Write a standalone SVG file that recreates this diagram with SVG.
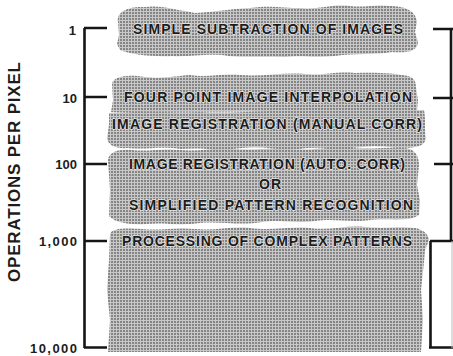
<svg xmlns="http://www.w3.org/2000/svg" width="453" height="356" viewBox="0 0 453 356">
<defs>
<pattern id="dots" patternUnits="userSpaceOnUse" width="3" height="3">
<rect width="3" height="3" fill="#c8c8c8"/>
<rect width="2" height="2" fill="#858585"/>
</pattern>
</defs>
<style>
.blob{fill:url(#dots);stroke:none}
.t{font-family:"Liberation Sans",Arial,sans-serif;font-weight:bold;font-size:14px;fill:#1c1c1c;stroke:#e6e6e6;stroke-width:1.4;paint-order:stroke;stroke-linejoin:round}
.n{font-family:"Liberation Sans",Arial,sans-serif;font-weight:bold;font-size:13px;fill:#1c1c1c;text-anchor:end}
.ax{stroke:#151515;stroke-width:2.6;fill:none}
</style>
<rect width="453" height="356" fill="#ffffff"/>
<g id="axis-title">
<text class="n" style="font-size:17px;text-anchor:middle" transform="translate(20,172) rotate(-90)" textLength="220" lengthAdjust="spacing">OPERATIONS PER PIXEL</text>
</g>
<g id="connectors">
<path class="ax" d="M84.5,28 V348 M84,28 H107 M84,97 H107 M84,164 H107 M84,241 H107 M84,347.5 H107"/>
<path class="ax" d="M451,28 V241 M433,29 H453 M433,98 H453 M434,164 H453 M430,241 H453 M430.5,241 V348 M429,347.5 H453"/>
<path d="M452,241 V348" stroke="#bbbbbb" stroke-width="1" fill="none"/>
</g>
<g id="scale">
<text class="n" x="76" y="35">1</text>
<text class="n" x="77" y="103">10</text>
<text class="n" x="77" y="169">100</text>
<text class="n" x="77" y="246" textLength="38">1,000</text>
<text class="n" x="77" y="353" textLength="47">10,000</text>
</g>
<g id="n1">
<path class="blob" d="M118,22 C116,12 128,6 145,7 C160,5 172,9 185,11 L195,13 C215,12 230,9 250,8 C270,5 285,8 300,8 C318,10 330,4 350,6 C365,8 375,4 392,6 C408,7 416,12 417,22 L415,32 L418,42 C418,52 405,53 392,52 C375,55 355,53 335,56 C315,58 300,55 285,57 C260,56 240,58 222,55 C200,54 190,57 172,56 C150,57 130,54 120,50 L117,44 L119,35 Z"/>
<text class="t" x="133" y="34" textLength="270" lengthAdjust="spacing">SIMPLE SUBTRACTION OF IMAGES</text>
</g>
<g id="n2">
<path class="blob" d="M112,84 C113,76 128,74 145,77 C165,79 175,76 190,75 C210,78 220,73 240,75 C262,77 285,72 305,74 C325,76 335,71 355,73 C375,72 395,73 408,76 C415,78 416,83 416,88 L418,100 L417,111 L111,112 L113,100 Z"/>
<text class="t" x="124" y="102" textLength="288" lengthAdjust="spacing">FOUR POINT IMAGE INTERPOLATION</text>
</g>
<g id="n3">
<path class="blob" d="M109,113 C140,111 170,113 200,112 C240,114 260,110 300,111 C340,109 380,112 424,110 C426,120 424,130 426,138 C425,143 422,146 415,147 C400,150 382,144 362,147 C340,150 320,146 300,149 C280,151 262,145 242,148 C220,151 200,147 180,149 C160,146 145,150 128,148 C115,149 108,145 107,138 L109,125 Z"/>
<text class="t" x="112" y="129" textLength="310" lengthAdjust="spacing">IMAGE REGISTRATION (MANUAL CORR)</text>
</g>
<g id="n4">
<path class="blob" d="M108,160 C109,152 118,149 132,150 C150,152 162,148 180,150 C200,152 215,147 235,149 C255,151 270,147 290,149 C315,151 330,146 352,148 C375,150 390,146 405,148 C415,149 419,156 419,165 L417,185 L420,200 L419,215 C410,222 392,218 370,220 C350,223 335,218 315,221 C295,224 282,219 262,222 C240,226 222,221 200,223 C180,226 165,222 145,224 C128,225 114,222 109,216 L110,190 Z"/>
<text class="t" x="129" y="169" textLength="276" lengthAdjust="spacing">IMAGE REGISTRATION (AUTO. CORR)</text>
<text class="t" x="259" y="189" textLength="22" lengthAdjust="spacing">OR</text>
<text class="t" x="129" y="210" textLength="284" lengthAdjust="spacing">SIMPLIFIED PATTERN RECOGNITION</text>
</g>
<g id="n5">
<path class="blob" d="M110,234 C112,228 125,228 142,229 C160,231 175,227 195,229 C215,231 230,226 250,228 C272,231 290,226 310,228 C330,231 345,225 365,227 C385,229 400,226 415,228 C424,230 428,234 429,240 L425,250 L424,262 L421,290 L423,320 L421,352 L108,352 L110,320 L107,290 L109,260 Z"/>
<text class="t" x="122" y="246" textLength="290" lengthAdjust="spacing">PROCESSING OF COMPLEX PATTERNS</text>
</g>
</svg>
